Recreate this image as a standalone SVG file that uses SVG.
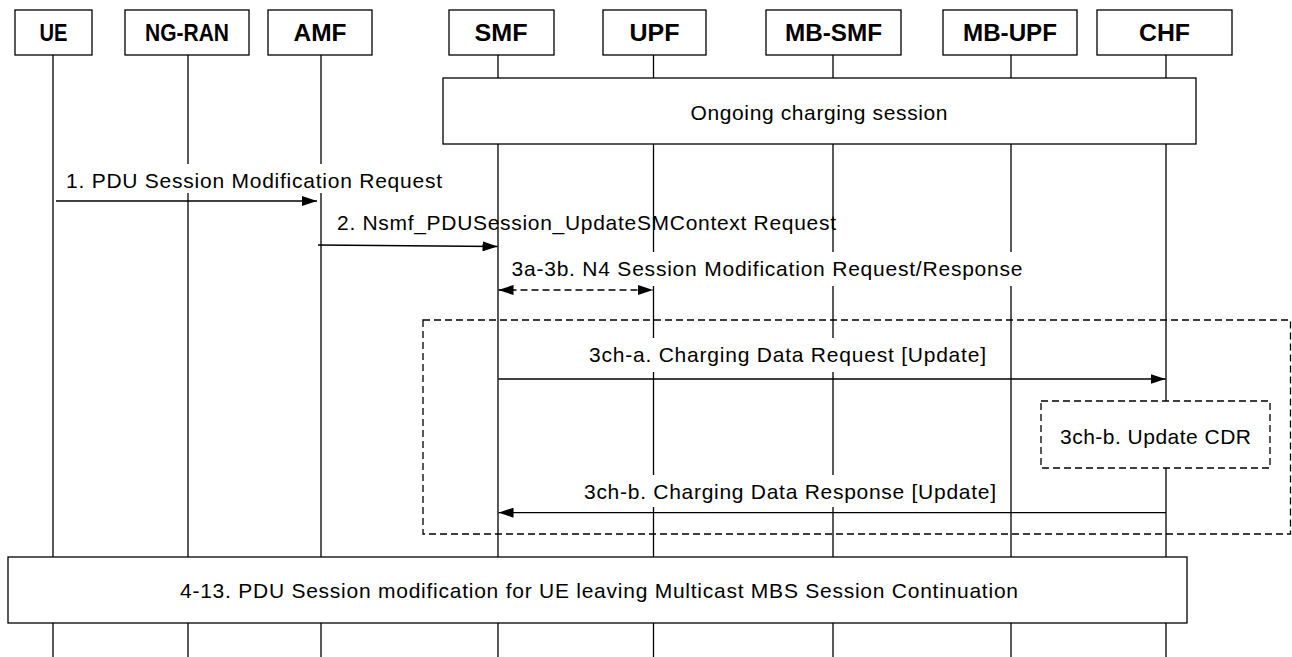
<svg xmlns="http://www.w3.org/2000/svg" width="1292" height="657" viewBox="0 0 1292 657">
<style>
.box{fill:#fff;stroke:#000;stroke-width:1.3}
.life{stroke:#000;stroke-width:1.3}
.hdr{font-family:"Liberation Sans",Arial,sans-serif;font-weight:bold;font-size:24px;text-anchor:middle;fill:#000}
.lbl{font-family:"Liberation Sans",Arial,sans-serif;font-size:21px;fill:#000}
.ctr{text-anchor:middle}
.msg{stroke:#000;stroke-width:1.3;fill:none}
.dash{stroke-dasharray:7 4}
.bg{fill:#fff;stroke:none}
.grp{fill:none;stroke:#000;stroke-width:1.3;stroke-dasharray:7 4}
</style>
<defs>
<marker id="ah" markerUnits="userSpaceOnUse" markerWidth="15" markerHeight="10" refX="15" refY="5" orient="auto-start-reverse" viewBox="0 0 15 10">
<path d="M0,0 L15,5 L0,10 z" fill="#000"/>
</marker>
</defs>
<rect width="1292" height="657" fill="#fff"/>

<g id="UE"><line class="life" x1="53" y1="55" x2="53" y2="657"/><rect class="box" x="15" y="10" width="77" height="45"/><text class="hdr" x="53.5" y="41" textLength="28" lengthAdjust="spacingAndGlyphs">UE</text></g>
<g id="NG-RAN"><line class="life" x1="188" y1="55" x2="188" y2="657"/><rect class="box" x="125" y="10" width="124" height="45"/><text class="hdr" x="187" y="41" textLength="84" lengthAdjust="spacingAndGlyphs">NG-RAN</text></g>
<g id="AMF"><line class="life" x1="321" y1="55" x2="321" y2="657"/><rect class="box" x="268" y="10" width="104" height="45"/><text class="hdr" x="320" y="41" textLength="53" lengthAdjust="spacingAndGlyphs">AMF</text></g>
<g id="SMF"><line class="life" x1="498" y1="55" x2="498" y2="657"/><rect class="box" x="449" y="10" width="105" height="45"/><text class="hdr" x="501" y="41" textLength="53" lengthAdjust="spacingAndGlyphs">SMF</text></g>
<g id="UPF"><line class="life" x1="653.5" y1="55" x2="653.5" y2="657"/><rect class="box" x="603" y="10" width="103" height="45"/><text class="hdr" x="654.5" y="41" textLength="50" lengthAdjust="spacingAndGlyphs">UPF</text></g>
<g id="MB-SMF"><line class="life" x1="833" y1="55" x2="833" y2="657"/><rect class="box" x="766" y="10" width="135" height="45"/><text class="hdr" x="833.5" y="41" textLength="97" lengthAdjust="spacingAndGlyphs">MB-SMF</text></g>
<g id="MB-UPF"><line class="life" x1="1011" y1="55" x2="1011" y2="657"/><rect class="box" x="943" y="10" width="134" height="45"/><text class="hdr" x="1010" y="41" textLength="94" lengthAdjust="spacingAndGlyphs">MB-UPF</text></g>
<g id="CHF"><line class="life" x1="1166" y1="55" x2="1166" y2="657"/><rect class="box" x="1097" y="10" width="135" height="45"/><text class="hdr" x="1164.5" y="41" textLength="51" lengthAdjust="spacingAndGlyphs">CHF</text></g>

<g id="ongoing"><rect class="box" x="443" y="78" width="753" height="66"/><text class="lbl" x="690.5" y="120" textLength="257">Ongoing charging session</text></g>

<g id="charging-group"><rect class="grp" x="423" y="320" width="867.5" height="214"/></g>

<g id="update-cdr"><rect class="box" style="stroke-dasharray:7 4" x="1041" y="401" width="229" height="67"/><text class="lbl" x="1060" y="443.5" textLength="191">3ch-b. Update CDR</text></g>

<g id="connectors">
<rect class="bg" x="62" y="164" width="384" height="29"/>
<text class="lbl" x="66" y="187.5" textLength="376">1. PDU Session Modification Request</text>
<line class="msg" x1="56" y1="201" x2="317" y2="201" marker-end="url(#ah)"/>

<text class="lbl" x="337" y="230" textLength="499">2. Nsmf_PDUSession_UpdateSMContext Request</text>
<line class="msg" x1="318" y1="245" x2="497.5" y2="246.5" marker-end="url(#ah)"/>

<rect class="bg" x="505" y="252" width="521" height="34"/>
<text class="lbl" x="511.5" y="275.5" textLength="511">3a-3b. N4 Session Modification Request/Response</text>
<line class="msg dash" x1="498.5" y1="290" x2="653" y2="290" marker-start="url(#ah)" marker-end="url(#ah)"/>

<rect class="bg" x="585" y="338" width="405" height="34"/>
<text class="lbl" x="589" y="362" textLength="397">3ch-a. Charging Data Request [Update]</text>
<line class="msg" x1="498.5" y1="379" x2="1165.5" y2="379" marker-end="url(#ah)"/>

<rect class="bg" x="579" y="475" width="421" height="32"/>
<text class="lbl" x="584" y="498.5" textLength="412">3ch-b. Charging Data Response [Update]</text>
<line class="msg" x1="1166" y1="512.7" x2="498.5" y2="512.7" marker-end="url(#ah)"/>
</g>

<g id="step4-13"><rect class="box" x="8" y="557" width="1179" height="66"/><text class="lbl" x="180" y="598" textLength="838">4-13. PDU Session modification for UE leaving Multicast MBS Session Continuation</text></g>
</svg>
